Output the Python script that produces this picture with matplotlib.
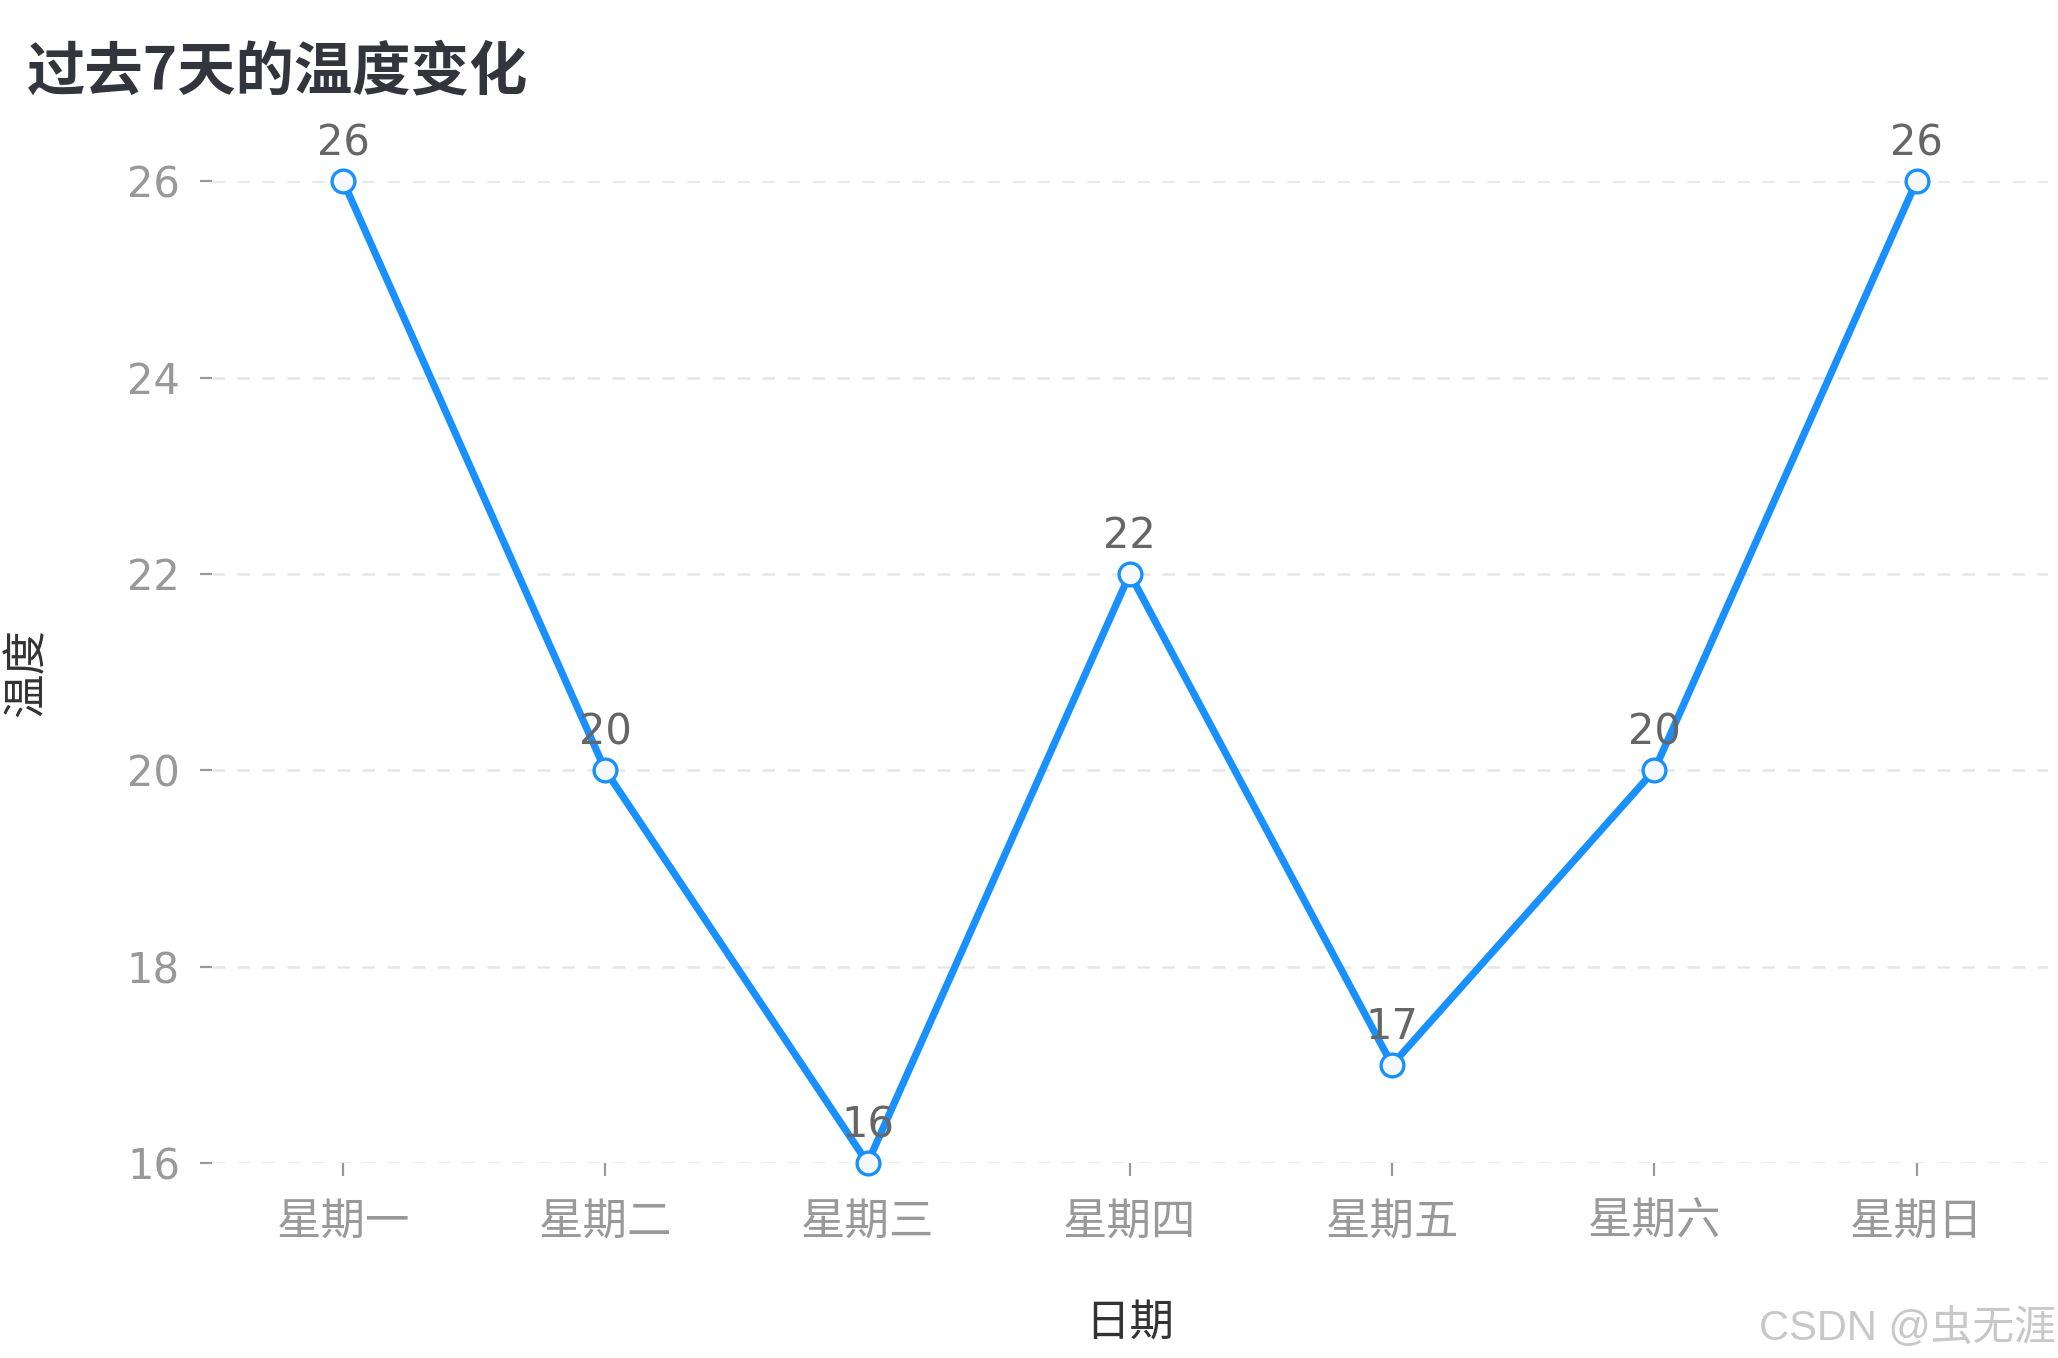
import matplotlib
matplotlib.use("Agg")
import matplotlib.pyplot as plt

plt.rcParams['font.family'] = ['DejaVu Sans', 'Noto Sans CJK SC']

# data
days = ["星期一", "星期二", "星期三", "星期四", "星期五", "星期六", "星期日"]
temps = [26, 20, 16, 22, 17, 20, 26]
y_ticks = [16, 18, 20, 22, 24, 26]

fig = plt.figure(figsize=(10.29, 6.79), dpi=200)
ax = fig.add_axes([0.103, 0.1436, 0.892, 0.723])

x = list(range(len(days)))
ax.plot(x, temps, color="#1890ff", linewidth=2.6, marker="o", markersize=8.2,
        markerfacecolor="#f5f9ff", markeredgecolor="#1890ff", markeredgewidth=1.2,
        clip_on=False, zorder=3)

# value labels above each point
for xi, t in zip(x, temps):
    ax.annotate(str(t), (xi, t), xytext=(0, 6), textcoords="offset points",
                ha="center", va="bottom", fontsize=15, color="#666666", zorder=4)

ax.set_xlim(-0.5, 6.5)
ax.set_ylim(16, 26)
ax.set_xticks(x)
ax.set_xticklabels(days)
ax.set_yticks(y_ticks)

for s in ax.spines.values():
    s.set_visible(False)

ax.tick_params(axis="both", colors="#999999", labelsize=15, length=4.5, width=0.8)
ax.tick_params(axis="x", pad=9, labelsize=16)
ax.tick_params(axis="y", pad=7)
ax.yaxis.grid(True, linestyle=(0, (5, 5)), color="#e6e6e6", linewidth=0.9)
ax.set_axisbelow(True)

ax.set_xlabel("日期", fontsize=16, color="#333333", labelpad=21)
ax.set_ylabel("温度", fontsize=16, color="#333333", labelpad=28)

fig.text(0.013, 0.947, "过去7天的温度变化", fontsize=21, fontweight="bold",
         color="#33353d", family=["Noto Sans CJK SC"], va="center", ha="left")

# watermark
fig.text(0.999, 0.022, "CSDN @虫无涯", fontsize=15, color="#c8c8c8",
         family=["Liberation Sans", "Noto Sans CJK SC"], ha="right", va="center")

fig.savefig("out.png", dpi=200)
